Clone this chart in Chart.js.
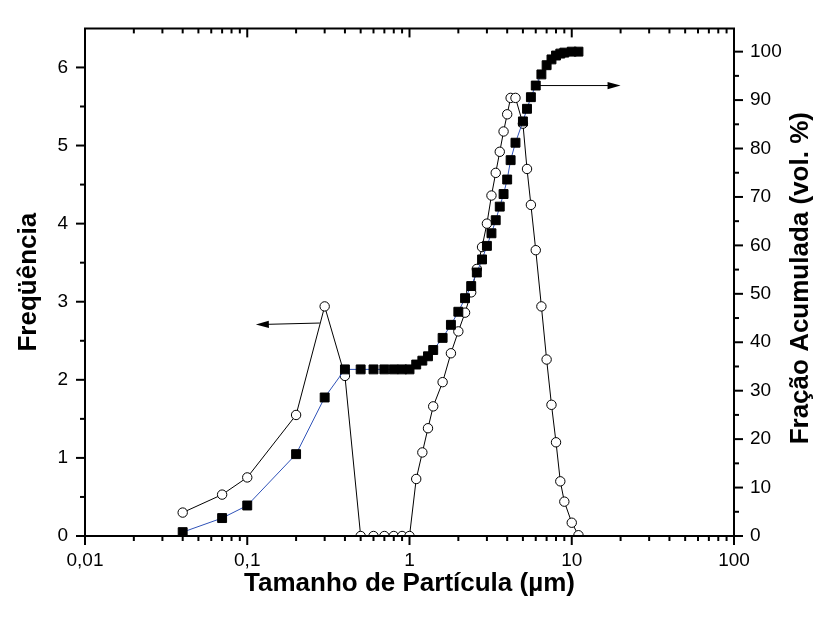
<!DOCTYPE html>
<html><head><meta charset="utf-8">
<script src="https://cdn.jsdelivr.net/npm/chart.js@4.4.1/dist/chart.umd.min.js"></script>
<style>html,body{margin:0;padding:0;background:#fff;}canvas{display:block;}</style>
</head><body>
<canvas id="c" width="823" height="617"></canvas>
<script>
// Particle size classes (µm)
const sizes = [0.04,0.07,0.1,0.2,0.3,0.4,0.5,0.6,0.7,0.8,0.9,1.0,1.1,1.2,1.3,1.4,1.6,1.8,2.0,2.2,2.4,2.6,2.8,3.0,3.2,3.4,3.6,3.8,4.0,4.2,4.5,5.0,5.3,5.6,6.0,6.5,7.0,7.5,8.0,8.5,9.0,10,11];
// Frequency (left axis, open circles)
const frequency = [0.30,0.53,0.75,1.55,2.94,2.05,0,0,0,0,0,0,0.73,1.07,1.38,1.66,1.97,2.34,2.62,2.86,3.12,3.42,3.70,4.00,4.36,4.65,4.92,5.18,5.40,5.61,5.61,5.28,4.70,4.24,3.66,2.94,2.26,1.68,1.20,0.70,0.44,0.17,0.01];
// Cumulative fraction (right axis, filled squares)
const cumulative = [0.8,3.7,6.3,16.9,28.6,34.4,34.4,34.4,34.4,34.4,34.4,34.4,35.4,36.2,37.1,38.4,40.9,43.6,46.3,49.1,51.6,54.4,57.1,59.9,62.5,65.2,68.0,70.6,73.6,77.6,81.2,85.6,88.2,90.6,93.0,95.3,97.2,98.4,99.2,99.6,99.8,100,100];

const xTickValues = [0.01,0.1,1,10,100];
const xTickLabels = ['0,01','0,1','1','10','100'];
const leftTickValues = [0,1,2,3,4,5,6];
const rightTickValues = [0,10,20,30,40,50,60,70,80,90,100];

const xTitle = 'Tamanho de Partícula (\u00b5m)';
const leftTitle = 'Freqüência';
const rightTitle = 'Fração Acumulada (vol. %)';

// arrow annotations (data coordinates)
const arrowFreq = {from:[0.28,2.727], to:[0.113,2.707], axis:'yL'};
const arrowCum = {from:[6.3,93.0], to:[20,93.0], axis:'yR'};

const FONT = "'Liberation Sans', Arial, Helvetica, sans-serif";

function minorLog(){
  const out=[];
  for (let d=0.01; d<50; d*=10){ for(let k=2;k<=9;k++) out.push(+(k*d).toPrecision(3)); }
  return out;
}

const framePlugin = {
  id:'frame',
  afterDatasetsDraw(chart){
    const {ctx, chartArea:a, scales} = chart;
    const x = scales.x, yL = scales.yL, yR = scales.yR;
    ctx.save();
    ctx.strokeStyle='#000'; ctx.lineWidth=2; ctx.lineCap='butt';
    const line=(x1,y1,x2,y2)=>{ctx.beginPath();ctx.moveTo(x1,y1);ctx.lineTo(x2,y2);ctx.stroke();};
    // frame
    ctx.beginPath();
    ctx.moveTo(a.left, a.top-1); ctx.lineTo(a.left, a.bottom+1);
    ctx.moveTo(a.right, a.top-1); ctx.lineTo(a.right, a.bottom+1);
    ctx.moveTo(a.left-1, a.top); ctx.lineTo(a.right+1, a.top);
    ctx.moveTo(a.left-1, a.bottom); ctx.lineTo(a.right+1, a.bottom);
    ctx.stroke();
    const MJ=9, MN=5;
    // x ticks (bottom outward, top inward)
    xTickValues.forEach(v=>{const p=x.getPixelForValue(v); line(p,a.bottom,p,a.bottom+MJ); line(p,a.top,p,a.top+MJ);});
    minorLog().forEach(v=>{const p=x.getPixelForValue(v); line(p,a.bottom,p,a.bottom+MN); line(p,a.top,p,a.top+MN);});
    // left ticks
    leftTickValues.forEach(v=>{const p=yL.getPixelForValue(v); line(a.left-MJ,p,a.left,p);});
    for(let v=0.5; v<6.5; v+=1){const p=yL.getPixelForValue(v); line(a.left-MN,p,a.left,p);}
    // right ticks
    rightTickValues.forEach(v=>{const p=yR.getPixelForValue(v); line(a.right,p,a.right+MJ,p);});
    for(let v=5; v<100; v+=10){const p=yR.getPixelForValue(v); line(a.right,p,a.right+MN,p);}
    // arrows
    const arrow=(ar)=>{
      const ys=scales[ar.axis];
      const x1=x.getPixelForValue(ar.from[0]), y1=ys.getPixelForValue(ar.from[1]);
      const x2=x.getPixelForValue(ar.to[0]), y2=ys.getPixelForValue(ar.to[1]);
      const ang=Math.atan2(y2-y1,x2-x1), L=13, W=3.6;
      ctx.lineWidth=1;
      line(x1,y1,x2-Math.cos(ang)*L*0.8,y2-Math.sin(ang)*L*0.8);
      ctx.beginPath();
      ctx.moveTo(x2,y2);
      ctx.lineTo(x2-Math.cos(ang)*L+Math.sin(ang)*W, y2-Math.sin(ang)*L-Math.cos(ang)*W);
      ctx.lineTo(x2-Math.cos(ang)*L-Math.sin(ang)*W, y2-Math.sin(ang)*L+Math.cos(ang)*W);
      ctx.closePath(); ctx.fillStyle='#000'; ctx.fill();
    };
    arrow(arrowFreq); arrow(arrowCum);
    // right title (reads bottom-to-top)
    ctx.save();
    ctx.translate(801, (a.top+a.bottom)/2 - 4);
    ctx.rotate(-Math.PI/2);
    ctx.font = 'bold 26px '+FONT;
    ctx.fillStyle='#000'; ctx.textAlign='center'; ctx.textBaseline='middle';
    ctx.fillText(rightTitle,0,0);
    ctx.restore();
    ctx.restore();
  }
};

new Chart(document.getElementById('c'), {
  type:'line',
  data:{
    datasets:[
      {
        label:'Fração acumulada',
        data: sizes.map((s,i)=>({x:s,y:cumulative[i]})),
        yAxisID:'yR',
        borderColor:'#2f52b8', borderWidth:1,
        pointStyle:'rect', pointRadius:6.3,
        pointBackgroundColor:'#000', pointBorderColor:'#000', pointBorderWidth:1,
        tension:0
      },
      {
        label:'Freqüência',
        data: sizes.map((s,i)=>({x:s,y:frequency[i]})),
        yAxisID:'yL',
        borderColor:'#000', borderWidth:1,
        pointStyle:'circle', pointRadius:4.7,
        pointBackgroundColor:'#fff', pointBorderColor:'#000', pointBorderWidth:1,
        tension:0
      }
    ]
  },
  options:{
    responsive:false, animation:false, devicePixelRatio:1,
    layout:{padding:{top:12,left:0,right:0,bottom:0}},
    plugins:{legend:{display:false}, tooltip:{enabled:false}},
    scales:{
      x:{
        type:'logarithmic', position:'bottom', min:0.01, max:100,
        grid:{display:false, drawTicks:false}, border:{display:false},
        afterBuildTicks:(s)=>{s.ticks = xTickValues.map(v=>({value:v}));},
        afterFit:(s)=>{s.height=81;},
        ticks:{autoSkip:false, maxRotation:0, minRotation:0, padding:13, color:'#000',
          font:{family:FONT,size:19}, callback:(v,i)=>xTickLabels[i]},
        title:{display:true, text:xTitle, color:'#000', font:{family:FONT,size:26,weight:'bold'}, padding:{top:0,bottom:18}}
      },
      yL:{
        type:'linear', position:'left', min:0, max:6.5,
        grid:{display:false, drawTicks:false}, border:{display:false},
        afterBuildTicks:(s)=>{s.ticks = leftTickValues.map(v=>({value:v}));},
        afterFit:(s)=>{s.width=85;},
        ticks:{padding:17, color:'#000', font:{family:FONT,size:19}, callback:(v)=>String(v)},
        title:{display:true, text:leftTitle, color:'#000', font:{family:FONT,size:26,weight:'bold'}, padding:{top:13,bottom:0}}
      },
      yR:{
        type:'linear', position:'right', min:0, max:104.8,
        grid:{display:false, drawTicks:false}, border:{display:false},
        afterBuildTicks:(s)=>{s.ticks = rightTickValues.map(v=>({value:v}));},
        afterFit:(s)=>{s.width=89;},
        ticks:{padding:16, color:'#000', font:{family:FONT,size:19}, callback:(v)=>String(v)},
        title:{display:false}
      }
    }
  },
  plugins:[framePlugin]
});
</script>
</body></html>
